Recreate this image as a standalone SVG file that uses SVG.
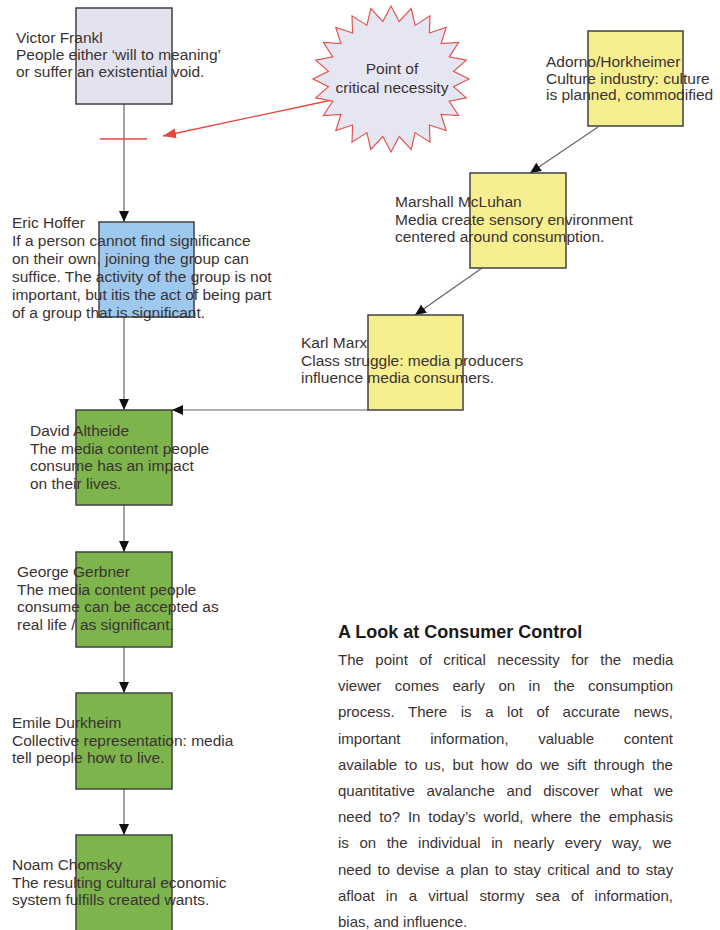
<svg xmlns="http://www.w3.org/2000/svg" width="720" height="930" viewBox="0 0 720 930">
<style>
.box{stroke:#404040;stroke-width:1.5}
.t{font-family:"Liberation Sans",Arial,sans-serif;font-size:15.5px;fill:#3b3232}
.st{font-family:"Liberation Sans",Arial,sans-serif;font-size:15.5px;fill:#3b3232;text-anchor:middle}
.b{font-family:"Liberation Sans",Arial,sans-serif;font-size:15px;fill:#3b3232}
.h{font-family:"Liberation Sans",Arial,sans-serif;font-size:18px;font-weight:bold;fill:#1a1a1a}
.c{stroke:#666;stroke-width:1.2;fill:none;marker-end:url(#ah)}
.r{stroke:#e8463c;stroke-width:1.3;fill:none}
</style>
<defs>
<marker id="ah" markerUnits="userSpaceOnUse" markerWidth="12" markerHeight="10" refX="11" refY="5" orient="auto"><path d="M0,0 L11,5 L0,10 z" fill="#111"/></marker>
<marker id="ahr" markerUnits="userSpaceOnUse" markerWidth="14" markerHeight="10" refX="13" refY="5" orient="auto"><path d="M0,0 L13,5 L0,10 z" fill="#e8463c"/></marker>
</defs>
<rect width="720" height="930" fill="#fff"/>

<g id="connectors">
<line class="c" x1="124" y1="104" x2="124" y2="222"/>
<line class="c" x1="124" y1="317" x2="124" y2="410"/>
<line class="c" x1="124" y1="505" x2="124" y2="552"/>
<line class="c" x1="124" y1="647" x2="124" y2="693"/>
<line class="c" x1="124" y1="789" x2="124" y2="835"/>
<line class="c" x1="598" y1="127" x2="530" y2="173"/>
<line class="c" x1="482" y1="268" x2="415" y2="315"/>
<line class="c" x1="368" y1="410" x2="172" y2="410"/>
<line class="r" x1="332" y1="100" x2="163" y2="136" marker-end="url(#ahr)"/>
<line class="r" x1="100" y1="139" x2="147" y2="139"/>
</g>

<g id="frankl">
<rect class="box" x="76" y="8" width="96" height="96" fill="#e3e3f0"/>
<text class="t" x="16" y="43">Victor Frankl</text>
<text class="t" x="16" y="60">People either ‘will to meaning’</text>
<text class="t" x="16" y="77">or suffer an existential void.</text>
</g>

<g id="critical">
<polygon transform="translate(391,79)" fill="#e6e6f3" stroke="#e0554f" stroke-width="1.2" points="78,0 62.5,7.6 75.3,18.9 58.2,22.2 67.6,36.5 50,35.3 55.2,51.6 38.4,46 39,63.2 24.1,53.6 20.2,70.5 8.2,57.5 0,73 -8.2,57.5 -20.2,70.5 -24.1,53.6 -39,63.2 -38.4,46 -55.2,51.6 -50,35.3 -67.6,36.5 -58.2,22.2 -75.3,18.9 -62.5,7.6 -78,0 -62.5,-7.6 -75.3,-18.9 -58.2,-22.2 -67.6,-36.5 -50,-35.3 -55.2,-51.6 -38.4,-46 -39,-63.2 -24.1,-53.6 -20.2,-70.5 -8.2,-57.5 0,-73 8.2,-57.5 20.2,-70.5 24.1,-53.6 39,-63.2 38.4,-46 55.2,-51.6 50,-35.3 67.6,-36.5 58.2,-22.2 75.3,-18.9 62.5,-7.6"/>
<text class="st" x="392" y="74">Point of</text>
<text class="st" x="392" y="93">critical necessity</text>
</g>

<g id="adorno">
<rect class="box" x="588" y="31" width="95" height="95" fill="#f6ef8f"/>
<text class="t" x="546" y="67">Adorno/Horkheimer</text>
<text class="t" x="546" y="84">Culture industry: culture</text>
<text class="t" x="546" y="100">is planned, commodified</text>
</g>

<g id="mcluhan">
<rect class="box" x="470" y="173" width="96" height="95" fill="#f6ef8f"/>
<text class="t" x="395" y="207">Marshall McLuhan</text>
<text class="t" x="395" y="224.5">Media create sensory environment</text>
<text class="t" x="395" y="242">centered around consumption.</text>
</g>

<g id="marx">
<rect class="box" x="368" y="315" width="95" height="95" fill="#f6ef8f"/>
<text class="t" x="301" y="348">Karl Marx</text>
<text class="t" x="301" y="365.5">Class struggle: media producers</text>
<text class="t" x="301" y="383">influence media consumers.</text>
</g>

<g id="hoffer">
<rect class="box" x="99" y="222" width="95" height="95" fill="#9ec9ee"/>
<text class="t" x="12" y="228">Eric Hoffer</text>
<text class="t" x="12" y="246">If a person cannot find significance</text>
<text class="t" x="12" y="264">on their own, joining the group can</text>
<text class="t" x="12" y="282">suffice. The activity of the group is not</text>
<text class="t" x="12" y="300">important, but itis the act of being part</text>
<text class="t" x="12" y="318">of a group that is significant.</text>
</g>

<g id="altheide">
<rect class="box" x="76" y="410" width="96" height="95" fill="#7db44c"/>
<text class="t" x="30" y="436">David Altheide</text>
<text class="t" x="30" y="453.5">The media content people</text>
<text class="t" x="30" y="471">consume has an impact</text>
<text class="t" x="30" y="488.5">on their lives.</text>
</g>

<g id="gerbner">
<rect class="box" x="76" y="552" width="96" height="95" fill="#7db44c"/>
<text class="t" x="17" y="577">George Gerbner</text>
<text class="t" x="17" y="594.5">The media content people</text>
<text class="t" x="17" y="612">consume can be accepted as</text>
<text class="t" x="17" y="629.5">real life / as significant.</text>
</g>

<g id="durkheim">
<rect class="box" x="76" y="693" width="96" height="96" fill="#7db44c"/>
<text class="t" x="12" y="728">Emile Durkheim</text>
<text class="t" x="12" y="745.5">Collective representation: media</text>
<text class="t" x="12" y="763">tell people how to live.</text>
</g>

<g id="chomsky">
<rect class="box" x="76" y="835" width="96" height="100" fill="#7db44c"/>
<text class="t" x="12" y="870">Noam Chomsky</text>
<text class="t" x="12" y="887.5">The resulting cultural economic</text>
<text class="t" x="12" y="905">system fulfills created wants.</text>
</g>

<g id="article">
<text class="h" x="338" y="638">A Look at Consumer Control</text>
<text class="b" x="338" y="665" word-spacing="7.3">The point of critical necessity for the media</text>
<text class="b" x="338" y="691.2" word-spacing="9.3">viewer comes early on in the consumption</text>
<text class="b" x="338" y="717.4" word-spacing="9.4">process. There is a lot of accurate news,</text>
<text class="b" x="338" y="743.6" word-spacing="25.5">important information, valuable content</text>
<text class="b" x="338" y="769.8" word-spacing="3.4">available to us, but how do we sift through the</text>
<text class="b" x="338" y="796" word-spacing="7.5">quantitative avalanche and discover what we</text>
<text class="b" x="338" y="822.2" word-spacing="3.7">need to? In today’s world, where the emphasis</text>
<text class="b" x="338" y="848.4" word-spacing="6.4">is on the individual in nearly every way, we</text>
<text class="b" x="338" y="874.6" word-spacing="2">need to devise a plan to stay critical and to stay</text>
<text class="b" x="338" y="900.8" word-spacing="7">afloat in a virtual stormy sea of information,</text>
<text class="b" x="338" y="927">bias, and influence.</text>
</g>
</svg>
